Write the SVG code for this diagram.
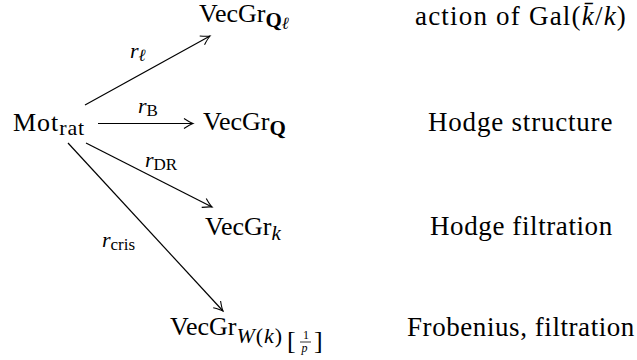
<svg xmlns="http://www.w3.org/2000/svg" width="637" height="360" viewBox="0 0 637 360">
<style>
text{font-family:"Liberation Serif","DejaVu Serif",serif;fill:#000}
.n{font-size:26px}
.s{font-size:21px}
.l{font-size:22px}
.ls{font-size:17px}
.i{font-style:italic}
.u{font-style:normal}
.b{font-weight:bold}
.c{font-size:27px}
.e{stroke:#000;stroke-width:1.2;fill:none}
</style>
<defs>
<marker id="ah" viewBox="-10 -6 12 12" refX="0" refY="0" markerWidth="12" markerHeight="12" markerUnits="userSpaceOnUse" orient="auto">
<path d="M-9,-5 Q-3,-1 0,0 Q-3,1 -9,5" fill="none" stroke="#000" stroke-width="1.1"/>
</marker>
</defs>
<rect width="637" height="360" fill="#fff"/>
<g id="connectors">
<line class="e" x1="85" y1="105" x2="210" y2="36" marker-end="url(#ah)"/>
<line class="e" x1="98" y1="123.5" x2="193" y2="123.5" marker-end="url(#ah)"/>
<line class="e" x1="86" y1="143" x2="212" y2="207" marker-end="url(#ah)"/>
<line class="e" x1="68" y1="143" x2="223" y2="311" marker-end="url(#ah)"/>
<text class="l i" x="130" y="58">r<tspan class="ls" dy="3">ℓ</tspan></text>
<text class="l i" x="138" y="113">r<tspan class="ls u" dy="3">B</tspan></text>
<text class="l i" x="145" y="167">r<tspan class="ls u" dy="3">DR</tspan></text>
<text class="l i" x="102" y="247">r<tspan class="ls u" dy="3">cris</tspan></text>
</g>
<g id="mot">
<text class="n" x="13" y="131"><tspan letter-spacing="1">Mot</tspan><tspan font-size="22" dy="4" letter-spacing="0.8">rat</tspan></text>
</g>
<g id="vecgr-ql">
<text class="n" x="199" y="22">VecGr<tspan class="s b" dy="5">Q</tspan><tspan class="ls i" dy="2">ℓ</tspan></text>
</g>
<g id="vecgr-q">
<text class="n" x="203" y="130">VecGr<tspan class="s b" dy="5">Q</tspan></text>
</g>
<g id="vecgr-k">
<text class="n" x="205" y="235">VecGr<tspan class="s i" dy="5">k</tspan></text>
</g>
<g id="vecgr-w">
<text class="n" x="170" y="335">VecGr<tspan font-size="22" dy="8" letter-spacing="1"><tspan class="i">W</tspan>(<tspan class="i">k</tspan>)</tspan></text>
<text font-size="26" x="287" y="349">[</text>
<text font-size="12" x="303" y="339">1</text>
<line x1="300" y1="342" x2="311" y2="342" stroke="#000" stroke-width="0.8"/>
<text font-size="12" class="i" x="301.5" y="352">p</text>
<text font-size="26" x="314" y="349">]</text>
</g>
<g id="desc">
<text class="c" x="415" y="25" letter-spacing="1.2">action of Gal(<tspan class="i">k̄</tspan>/<tspan class="i">k</tspan>)</text>
<text class="c" x="428" y="131" letter-spacing="0.8">Hodge structure</text>
<text class="c" x="430" y="235" letter-spacing="0.6">Hodge filtration</text>
<text class="c" x="407" y="336" letter-spacing="0.57">Frobenius, filtration</text>
</g>
</svg>
